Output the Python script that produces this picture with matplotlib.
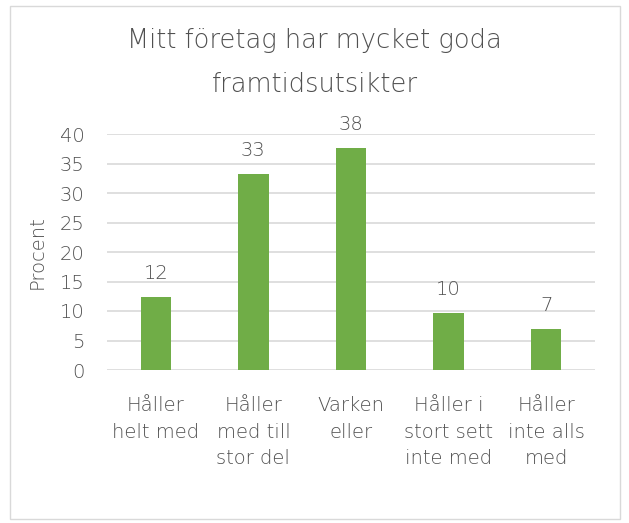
import matplotlib
matplotlib.use("Agg")
import matplotlib.pyplot as plt
from matplotlib.patches import Rectangle

categories = ["Håller\nhelt med", "Håller\nmed till\nstor del", "Varken\neller",
              "Håller i\nstort sett\ninte med", "Håller\ninte alls\nmed"]
values = [12.3, 33.2, 37.6, 9.6, 6.9]
labels = ["12", "33", "38", "10", "7"]
yticks = [0, 5, 10, 15, 20, 25, 30, 35, 40]

plt.rcParams['font.family'] = ['DejaVu Sans']
plt.rcParams['font.weight'] = 'light'
txt = '#505050'
fs = 14

fig = plt.figure(figsize=(6.29, 5.23), dpi=100)
ax = fig.add_axes([107/629, 1-370/523, (595-107)/629, (370-134)/523])

x = list(range(len(categories)))
ax.bar(x, values, width=0.31, color='#70AD47', zorder=3)
for xi, v, l in zip(x, values, labels):
    ax.annotate(l, (xi, v), xytext=(0, 13), textcoords='offset points',
                ha='center', va='baseline', fontsize=fs, color=txt, weight='light')

ax.set_xlim(-0.5, len(categories) - 0.5)
ax.set_ylim(0, 40)
ax.set_yticks(yticks)
ax.set_yticklabels([str(t) for t in yticks], fontsize=fs, color=txt, weight='light')
ax.set_xticks(x)
ax.set_xticklabels(categories, fontsize=fs, color=txt, linespacing=1.48, va='top', weight='light')
ax.tick_params(axis='y', length=0, pad=16)
ax.tick_params(axis='x', length=0, pad=19)
ax.grid(axis='y', color='#D9D9D9', linewidth=1.2, zorder=0)
for s in ax.spines.values():
    s.set_visible(False)
ax.set_ylabel("Procent", fontsize=fs, color=txt, weight='light')
ax.yaxis.set_label_coords(47/629, 1-252/523, transform=fig.transFigure)

fig.text(0.5, 1-48/523, "Mitt företag har mycket goda", ha='center', va='baseline',
         fontsize=18.5, color=txt, weight='light')
fig.text(0.5, 1-92/523, "framtidsutsikter", ha='center', va='baseline',
         fontsize=18.5, color=txt, weight='light')

fig.patches.append(Rectangle((10/629, 4/523), 610/629, 513/523, transform=fig.transFigure,
                             fill=False, edgecolor='#D9D9D9', linewidth=1))

fig.savefig("out.png", dpi=100)
